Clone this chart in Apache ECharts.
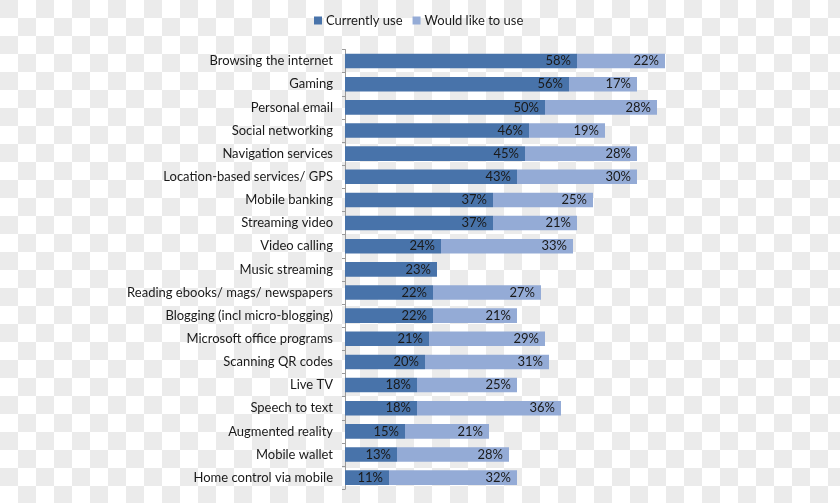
<!DOCTYPE html>
<html><head><meta charset="utf-8">
<script src="https://cdn.jsdelivr.net/npm/echarts@6/dist/echarts.min.js"></script>
<style>
html,body{margin:0;padding:0;width:840px;height:503px;overflow:hidden;
background-color:#fff;
background-image:conic-gradient(#ffffff 0 25%, #ebebeb 0 50%, #ffffff 0 75%, #ebebeb 0 100%);
background-size:36px 36px;}
#c{width:840px;height:503px;}
</style></head>
<body><div id="c"></div>
<script>
const categories = ["Browsing the internet","Gaming","Personal email","Social networking","Navigation services","Location-based services/ GPS","Mobile banking","Streaming video","Video calling","Music streaming","Reading ebooks/ mags/ newspapers","Blogging (incl micro-blogging)","Microsoft office programs","Scanning QR codes","Live TV","Speech to text","Augmented reality","Mobile wallet","Home control via mobile"];
const currentlyUse = [58,56,50,46,45,43,37,37,24,23,22,22,21,20,18,18,15,13,11];
const wouldLikeToUse = [22,17,28,19,28,30,25,21,33,null,27,21,29,31,25,36,21,28,32];
const seriesNames = ["Currently use","Would like to use"];

const font = "Lato";
const chart = echarts.init(document.getElementById('c'), null, {renderer:'canvas'});
const lbl = {show:true, position:'insideRight', distance:6, formatter:'{c}%', color:'#1a1a1a', fontFamily:font, fontSize:13};
chart.setOption({
  backgroundColor:'transparent',
  animation:false,
  legend:{top:9, left:309, itemWidth:8, itemHeight:8, itemGap:10, icon:'rect',
    textStyle:{fontFamily:font, fontSize:13, color:'#1a1a1a', padding:[0,0,0,-1]},
    data:seriesNames},
  grid:{left:345, width:400, top:49.5, height:439.7, containLabel:false},
  xAxis:{type:'value', min:0, max:100, show:false},
  yAxis:{type:'category', data:categories, inverse:true,
    axisLine:{show:true, lineStyle:{color:'#9a9a9a', width:1}},
    axisTick:{show:true, length:3, lineStyle:{color:'#9a9a9a'}},
    axisLabel:{fontFamily:font, fontSize:13, color:'#1a1a1a', margin:12}},
  series:[
    {name:seriesNames[0], type:'bar', stack:'a', data:currentlyUse, barWidth:'63%',
     itemStyle:{color:'#4873aa'}, label:lbl},
    {name:seriesNames[1], type:'bar', stack:'a', data:wouldLikeToUse, barWidth:'63%',
     itemStyle:{color:'#94abd6'}, label:lbl}
  ]
});
</script></body></html>
